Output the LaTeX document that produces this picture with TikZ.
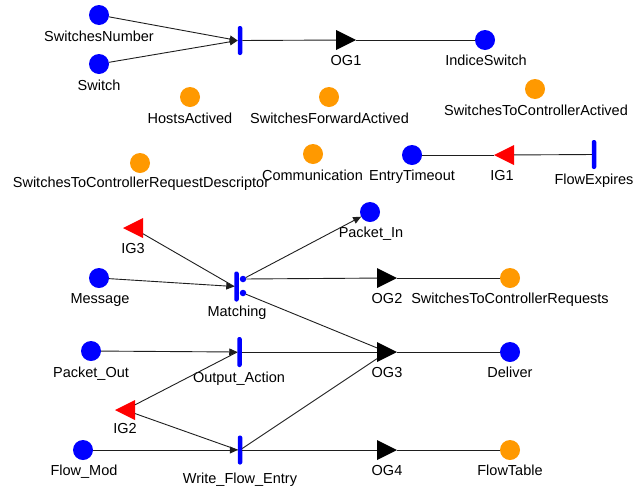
\documentclass[tikz,border=0pt]{standalone}
\usepackage{fontspec}
\setmainfont{Liberation Sans}
\usetikzlibrary{arrows.meta}
\definecolor{plblue}{RGB}{0,0,255}
\definecolor{plorange}{RGB}{255,153,0}
\definecolor{plred}{RGB}{255,0,0}
\definecolor{wire}{RGB}{30,30,30}
\begin{document}
\begin{tikzpicture}[x=1pt,y=-1pt,
  every node/.style={inner sep=0pt,outer sep=0pt},
  bplace/.style={circle,fill=plblue,minimum size=20pt},
  oplace/.style={circle,fill=plorange,minimum size=20pt},
  tbar/.style={rectangle,fill=plblue,minimum width=4.5pt,minimum height=29pt,rounded corners=2pt},
  port/.style={circle,fill=plblue,minimum size=6.5pt},
  outgate/.style={rectangle,minimum size=20pt,path picture={
      \fill[black] (path picture bounding box.north west) -- (path picture bounding box.east)
        -- (path picture bounding box.south west) -- cycle;}},
  ingate/.style={rectangle,minimum size=20pt,path picture={
      \fill[plred] (path picture bounding box.north east) -- (path picture bounding box.west)
        -- (path picture bounding box.south east) -- cycle;}},
  lab/.style={anchor=base,font=\fontsize{14.5pt}{17pt}\selectfont,text=black},
  wireline/.style={draw=wire,line width=0.9pt},
  arr/.style={wireline,-{Triangle[length=8pt,width=7pt]}}
]
\useasboundingbox (0,0) rectangle (644,485);

% switch indexing
\node[bplace] (sn) at (99,15) {};
\node[bplace] (sw) at (99,64) {};
\node[tbar] (t1) at (240,40.5) {};
\node[outgate] (og1) at (346,40) {};
\node[bplace] (is) at (485,40) {};
\node[lab] (snl) at (99,41.5) {SwitchesNumber};
\node[lab] (swl) at (99,90) {Switch};
\node[lab] (og1l) at (346,65.5) {OG1};
\node[lab] (isl) at (486,65.5) {IndiceSwitch};

% unconnected places
\node[oplace] (ha) at (190,97) {};
\node[oplace] (sfa) at (329,97) {};
\node[oplace] (stca) at (535,89) {};
\node[oplace] (stcrd) at (140,163) {};
\node[oplace] (com) at (313,154) {};
\node[lab] (hal) at (190,123) {HostsActived};
\node[lab] (sfal) at (329.5,123) {SwitchesForwardActived};
\node[lab] (stcal) at (536,115) {SwitchesToControllerActived};
\node[lab] (stcrdl) at (141,187) {SwitchesToControllerRequestDescriptor};
\node[lab] (coml) at (312.5,180) {Communication};

% flow expiry
\node[bplace] (et) at (412,155) {};
\node[ingate] (ig1) at (504,155) {};
\node[tbar] (fe) at (594,154.5) {};
\node[lab] (etl) at (412,180) {EntryTimeout};
\node[lab] (ig1l) at (502,180) {IG1};
\node[lab] (fel) at (594,184) {FlowExpires};

% matching
\node[ingate] (ig3) at (133,228) {};
\node[bplace] (pin) at (370,212) {};
\node[bplace] (msg) at (99,278) {};
\node[tbar,minimum height=30pt] (mt) at (236.5,286.5) {};
\node[port] (m1) at (243,279) {};
\node[port] (m2) at (243,293) {};
\node[outgate] (og2) at (387,278) {};
\node[oplace] (stcr) at (510,278) {};
\node[lab] (ig3l) at (133,253) {IG3};
\node[lab] (pinl) at (371,237) {Packet\_In};
\node[lab] (msgl) at (100,303) {Message};
\node[lab] (mtl) at (237,316) {Matching};
\node[lab] (og2l) at (387,303) {OG2};
\node[lab] (stcrl) at (510,303) {SwitchesToControllerRequests};

% output action and delivery
\node[bplace] (po) at (91,351) {};
\node[tbar,minimum height=30pt] (oa) at (239.5,352) {};
\node[outgate] (og3) at (387,352) {};
\node[bplace] (dl) at (510,352) {};
\node[lab] (pol) at (91,377) {Packet\_Out};
\node[lab] (oal) at (239,382) {Output\_Action};
\node[lab] (og3l) at (387,377) {OG3};
\node[lab] (dll) at (510,377) {Deliver};

% flow table update
\node[ingate] (ig2) at (125,410) {};
\node[bplace] (fm) at (83,450) {};
\node[tbar] (wf) at (240,450) {};
\node[outgate] (og4) at (387,450) {};
\node[oplace] (ft) at (510,450) {};
\node[lab] (ig2l) at (125,433) {IG2};
\node[lab] (fml) at (84,475) {Flow\_Mod};
\node[lab] (wfl) at (240,483) {Write\_Flow\_Entry};
\node[lab] (og4l) at (387,475) {OG4};
\node[lab] (ftl) at (510,475) {FlowTable};

% connectors
\draw[arr] (sn) -- (t1.west);
\draw[arr] (sw) -- (t1.west);
\draw[wireline] (t1) -- (og1);
\draw[wireline] (og1) -- (is);

\draw[wireline] (fe) -- (ig1);
\draw[wireline] (ig1) -- (et);

\draw[wireline] (ig3) -- (mt.west);
\draw[arr] (msg) -- (mt.west);
\draw[arr] (m1) -- (pin);
\draw[wireline] (m1) -- (og2);
\draw[wireline] (og2) -- (stcr);
\draw[wireline] (m2) -- (og3);

\draw[arr] (po) -- (oa.west);
\draw[wireline] (ig2) -- (oa.west);
\draw[wireline] (oa) -- (og3);
\draw[wireline] (og3) -- (dl);

\draw[wireline] (ig2) -- (wf.west);
\draw[arr] (fm) -- (wf.west);
\draw[wireline] (wf) -- (og3);
\draw[wireline] (wf) -- (og4);
\draw[wireline] (og4) -- (ft);
\end{tikzpicture}
\end{document}
